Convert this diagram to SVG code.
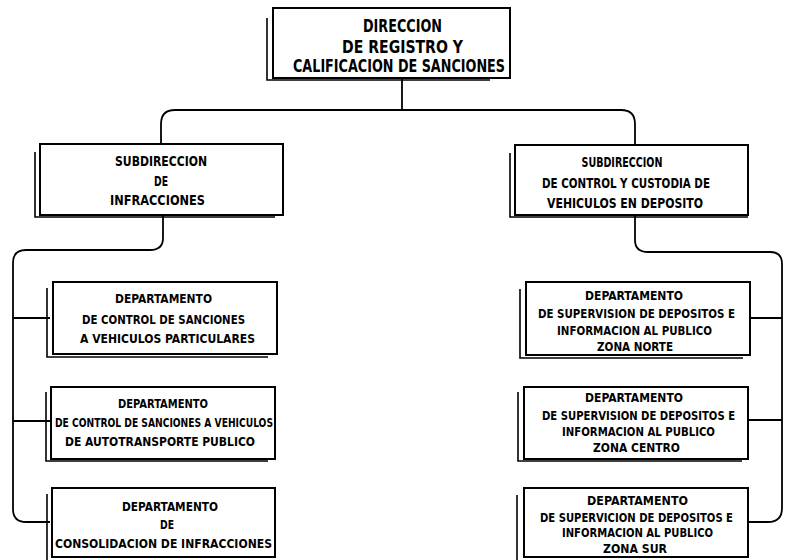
<svg xmlns="http://www.w3.org/2000/svg" width="785" height="560" viewBox="0 0 785 560">
<style>
.box{fill:#fff;stroke:#000;stroke-width:2}
.sh{fill:none;stroke:#000;stroke-width:1.6}
.con{fill:none;stroke:#000;stroke-width:1.8}
text{font-family:"Liberation Sans Narrow","DejaVu Sans Condensed","Liberation Sans",sans-serif;font-weight:bold;text-anchor:middle;fill:#000}
.t1{font-size:18px}
.t2{font-size:13.5px}
.t3{font-size:13px}
</style>
<rect width="785" height="560" fill="#fff"/>
<g id="connectors">
<path class="con" d="M402 78 V110"/>
<path class="con" d="M161 144 V124 Q161 110 175 110 H621 Q635 110 635 124 V145"/>
<path class="con" d="M163 216 V238 Q163 250 150 250 H26 Q13 250 13 263 V509 Q13 522 26 522 H50"/>
<path class="con" d="M13 318 H50 M13 421 H52"/>
<path class="con" d="M635 216 V240 Q635 252 648 252 H770 Q782 252 782 264 V508 Q782 522 768 522 H748"/>
<path class="con" d="M750 318 H782 M748 420 H782"/>
</g>
<g id="n-direccion">
<path class="sh" d="M267 18 V80 H490"/>
<rect class="box" x="273" y="8" width="237" height="70"/>
<text class="t1" x="402.5" y="32" textLength="79" lengthAdjust="spacingAndGlyphs">DIRECCION</text>
<text class="t1" x="402.5" y="53" textLength="121" lengthAdjust="spacingAndGlyphs">DE REGISTRO Y</text>
<text class="t1" x="399" y="72" textLength="212" lengthAdjust="spacingAndGlyphs">CALIFICACION DE SANCIONES</text>
</g>
<g id="n-sub-infracciones">
<path class="sh" d="M35 152 V217 H275"/>
<rect class="box" x="40" y="144" width="243" height="71"/>
<text class="t2" x="161" y="166" textLength="92" lengthAdjust="spacingAndGlyphs">SUBDIRECCION</text>
<text class="t2" x="161" y="186" textLength="14" lengthAdjust="spacingAndGlyphs">DE</text>
<text class="t2" x="157.5" y="205" textLength="95" lengthAdjust="spacingAndGlyphs">INFRACCIONES</text>
</g>
<g id="n-sub-control">
<path class="sh" d="M510 153 V217 H748"/>
<rect class="box" x="515" y="145" width="233" height="70"/>
<text class="t2" x="622" y="167" textLength="81" lengthAdjust="spacingAndGlyphs">SUBDIRECCION</text>
<text class="t2" x="626" y="188" textLength="168" lengthAdjust="spacingAndGlyphs">DE CONTROL Y CUSTODIA DE</text>
<text class="t2" x="625" y="208" textLength="156" lengthAdjust="spacingAndGlyphs">VEHICULOS EN DEPOSITO</text>
</g>
<g id="n-dep-particulares">
<path class="sh" d="M47 288 V357 H268"/>
<rect class="box" x="53" y="282" width="224" height="72"/>
<text class="t3" x="163.5" y="303" textLength="97" lengthAdjust="spacingAndGlyphs">DEPARTAMENTO</text>
<text class="t3" x="163.5" y="324" textLength="163" lengthAdjust="spacingAndGlyphs">DE CONTROL DE SANCIONES</text>
<text class="t3" x="167.5" y="343" textLength="175" lengthAdjust="spacingAndGlyphs">A VEHICULOS PARTICULARES</text>
</g>
<g id="n-dep-autotransporte">
<path class="sh" d="M46 392 V461 H268"/>
<rect class="box" x="51" y="387" width="224" height="72"/>
<text class="t3" x="163" y="408" textLength="90" lengthAdjust="spacingAndGlyphs">DEPARTAMENTO</text>
<text class="t3" x="164" y="427" textLength="218" lengthAdjust="spacingAndGlyphs">DE CONTROL DE SANCIONES A VEHICULOS</text>
<text class="t3" x="160" y="446" textLength="190" lengthAdjust="spacingAndGlyphs">DE AUTOTRANSPORTE PUBLICO</text>
</g>
<g id="n-dep-consolidacion">
<path class="sh" d="M47 494 V560"/>
<rect class="box" x="52" y="488" width="223" height="69"/>
<text class="t3" x="170" y="511" textLength="96" lengthAdjust="spacingAndGlyphs">DEPARTAMENTO</text>
<text class="t3" x="167" y="529" textLength="14" lengthAdjust="spacingAndGlyphs">DE</text>
<text class="t3" x="163.5" y="548" textLength="217" lengthAdjust="spacingAndGlyphs">CONSOLIDACION  DE  INFRACCIONES</text>
</g>
<g id="n-dep-norte">
<path class="sh" d="M520 289 V358 H743"/>
<rect class="box" x="526" y="282" width="224" height="73"/>
<text class="t3" x="634" y="300" textLength="98" lengthAdjust="spacingAndGlyphs">DEPARTAMENTO</text>
<text class="t3" x="636.5" y="318" textLength="197" lengthAdjust="spacingAndGlyphs">DE SUPERVISION DE DEPOSITOS E</text>
<text class="t3" x="634.5" y="335" textLength="155" lengthAdjust="spacingAndGlyphs">INFORMACION AL PUBLICO</text>
<text class="t3" x="635" y="351" textLength="76" lengthAdjust="spacingAndGlyphs">ZONA NORTE</text>
</g>
<g id="n-dep-centro">
<path class="sh" d="M518 392 V461 H742"/>
<rect class="box" x="524" y="387" width="224" height="72"/>
<text class="t3" x="634" y="402" textLength="98" lengthAdjust="spacingAndGlyphs">DEPARTAMENTO</text>
<text class="t3" x="638.5" y="420" textLength="193" lengthAdjust="spacingAndGlyphs">DE SUPERVISION DE DEPOSITOS E</text>
<text class="t3" x="638.5" y="436" textLength="153" lengthAdjust="spacingAndGlyphs">INFORMACION AL PUBLICO</text>
<text class="t3" x="636.5" y="452" textLength="87" lengthAdjust="spacingAndGlyphs">ZONA CENTRO</text>
</g>
<g id="n-dep-sur">
<path class="sh" d="M517 495 V560"/>
<rect class="box" x="524" y="488" width="224" height="69"/>
<text class="t3" x="637.5" y="505" textLength="101" lengthAdjust="spacingAndGlyphs">DEPARTAMENTO</text>
<text class="t3" x="636.5" y="522" textLength="193" lengthAdjust="spacingAndGlyphs">DE SUPERVICION DE DEPOSITOS E</text>
<text class="t3" x="637.5" y="537" textLength="151" lengthAdjust="spacingAndGlyphs">INFORMACION AL PUBLICO</text>
<text class="t3" x="635" y="553" textLength="64" lengthAdjust="spacingAndGlyphs">ZONA SUR</text>
</g>
</svg>
